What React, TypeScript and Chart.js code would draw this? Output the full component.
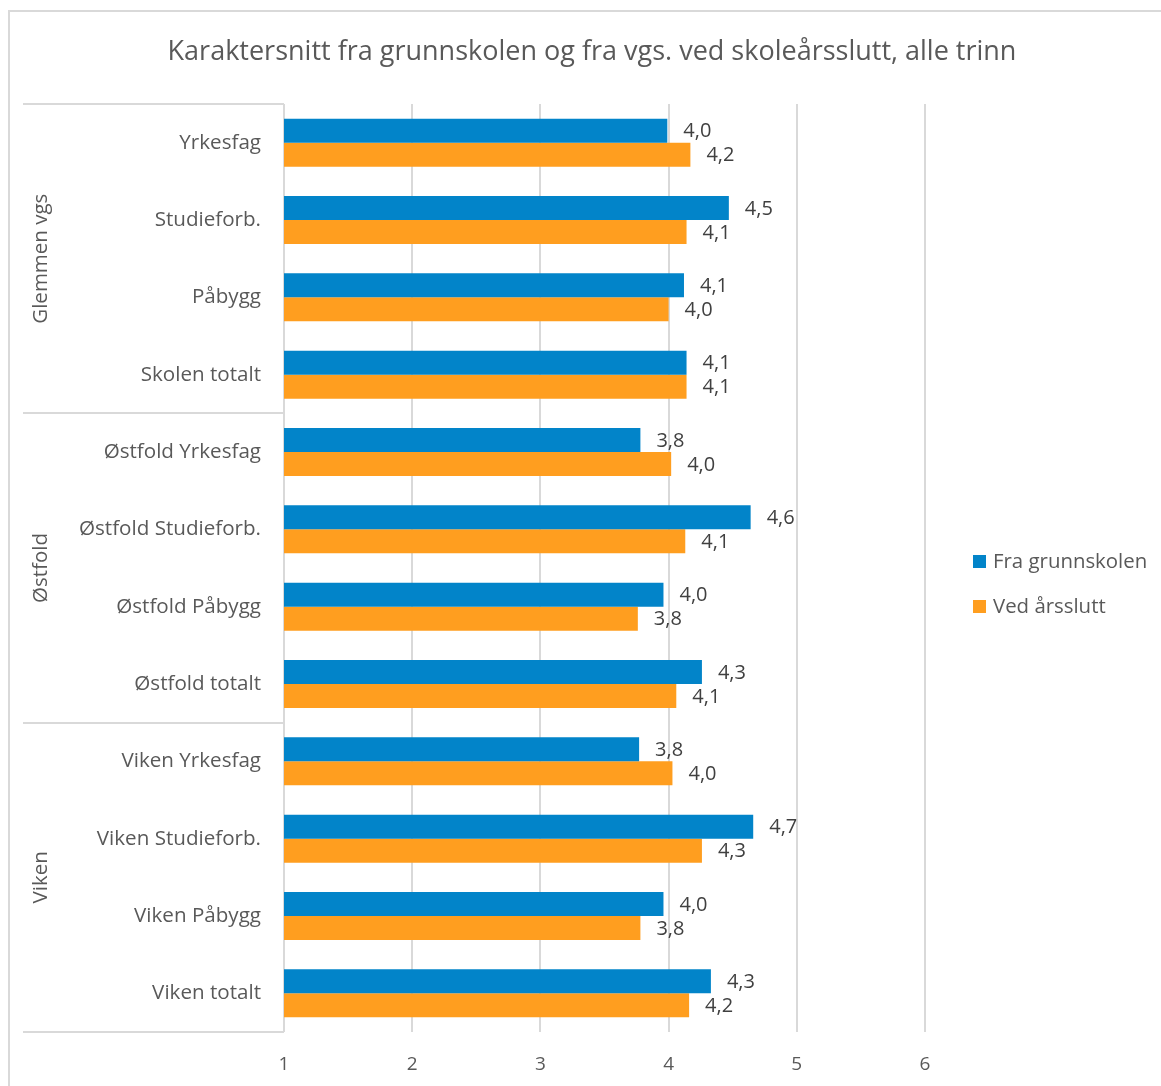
import React, { useEffect, useRef } from "react";
import { Chart, registerables } from "chart.js";

Chart.register(...registerables);

const title = "Karaktersnitt fra grunnskolen og fra vgs. ved skoleårsslutt, alle trinn";
const categories = [
  "Yrkesfag",
  "Studieforb.",
  "Påbygg",
  "Skolen totalt",
  "Østfold Yrkesfag",
  "Østfold Studieforb.",
  "Østfold Påbygg",
  "Østfold totalt",
  "Viken Yrkesfag",
  "Viken Studieforb.",
  "Viken Påbygg",
  "Viken totalt",
];
const groups = ["Glemmen vgs", "Østfold", "Viken"];
const groupSizes = [4, 4, 4];
const seriesNames = ["Fra grunnskolen", "Ved årsslutt"];
const fraGrunnskolen = [3.99, 4.47, 4.12, 4.14, 3.78, 4.64, 3.96, 4.26, 3.77, 4.66, 3.96, 4.33];
const vedArsslutt = [4.17, 4.14, 4.0, 4.14, 4.02, 4.13, 3.76, 4.06, 4.03, 4.26, 3.78, 4.16];
const xTicks = [1, 2, 3, 4, 5, 6];

const FONT = "'Open Sans', 'Noto Sans', sans-serif";
const TEXT = "#595959";
const GRID = "#d9d9d9";
const BLUE = "#0284c9";
const ORANGE = "#ff9e1f";

const W = 1151;
const H = 1074;

const fmt = (v: number) => v.toFixed(1).replace(".", ",");

const decorPlugin = {
  id: "decor",
  afterDraw(chart: any) {
    const ctx = chart.ctx;
    const area = chart.chartArea;
    const y = chart.scales.y;
    ctx.save();
    // title
    ctx.fillStyle = TEXT;
    ctx.font = `27px ${FONT}`;
    ctx.textAlign = "center";
    ctx.textBaseline = "middle";
    ctx.fillText(title, 582, 40);

    // group separators and labels
    const step = y.getPixelForValue(1) - y.getPixelForValue(0);
    const leftX = 13;
    ctx.strokeStyle = GRID;
    ctx.lineWidth = 2;
    let idx = 0;
    const bounds: number[] = [area.top];
    groupSizes.forEach((n) => {
      idx += n;
      const b = idx >= categories.length ? area.bottom : y.getPixelForValue(idx - 1) + step / 2;
      bounds.push(b);
    });
    bounds.forEach((b) => {
      ctx.beginPath();
      ctx.moveTo(leftX, Math.round(b));
      ctx.lineTo(area.left, Math.round(b));
      ctx.stroke();
    });
    ctx.font = `20.5px ${FONT}`;
    ctx.fillStyle = TEXT;
    groups.forEach((g, i) => {
      const cy = (bounds[i] + bounds[i + 1]) / 2;
      ctx.save();
      ctx.translate(31, cy);
      ctx.rotate(-Math.PI / 2);
      ctx.textAlign = "center";
      ctx.textBaseline = "middle";
      ctx.fillText(g, 0, 0);
      ctx.restore();
    });

    // data labels
    ctx.font = `20px ${FONT}`;
    ctx.fillStyle = "#404040";
    ctx.textAlign = "left";
    ctx.textBaseline = "middle";
    chart.data.datasets.forEach((ds: any, di: number) => {
      const meta = chart.getDatasetMeta(di);
      meta.data.forEach((el: any, i: number) => {
        ctx.fillText(fmt(ds.data[i]), el.x + 16, el.y + 1);
      });
    });

    // legend
    const legendX = 963;
    const legendY = [549, 594];
    ctx.font = `20.4px ${FONT}`;
    chart.data.datasets.forEach((ds: any, di: number) => {
      ctx.fillStyle = ds.backgroundColor;
      ctx.fillRect(legendX, legendY[di] - 6, 13, 13);
      ctx.fillStyle = TEXT;
      ctx.fillText(ds.label, legendX + 20, legendY[di] + 1);
    });
    ctx.restore();
  },
};

export default function App() {
  const ref = useRef<HTMLCanvasElement | null>(null);
  useEffect(() => {
    if (!ref.current) return;
    const chart = new Chart(ref.current, {
      type: "bar",
      data: {
        labels: categories,
        datasets: [
          { label: seriesNames[0], data: fraGrunnskolen, backgroundColor: BLUE },
          { label: seriesNames[1], data: vedArsslutt, backgroundColor: ORANGE },
        ],
      },
      options: {
        indexAxis: "y",
        responsive: false,
        animation: false,
        devicePixelRatio: 1,
        layout: { padding: { top: 92, right: 236, left: 0, bottom: 0 } },
        datasets: { bar: { barPercentage: 1, categoryPercentage: 0.62 } },
        plugins: {
          legend: { display: false },
          title: { display: false },
          tooltip: { enabled: false },
        },
        scales: {
          x: {
            type: "linear",
            min: 1,
            max: 6,
            afterBuildTicks: (scale: any) => {
              scale.ticks = xTicks.map((v) => ({ value: v }));
            },
            afterFit: (scale: any) => {
              scale.height = 54;
            },
            grid: { color: GRID, lineWidth: 2, drawTicks: false },
            border: { display: false },
            ticks: {
              padding: 21,
              color: TEXT,
              font: { family: FONT, size: 19 },
            },
          },
          y: {
            type: "category",
            afterFit: (scale: any) => {
              scale.width = 274;
            },
            grid: { display: false, drawTicks: false },
            border: { display: false },
            ticks: {
              padding: 23,
              color: TEXT,
              font: { family: FONT, size: 20.6 },
            },
          },
        },
      },
      plugins: [decorPlugin],
    } as any);
    return () => chart.destroy();
  }, []);

  return (
    <div
      style={{
        position: "fixed",
        left: 8,
        top: 10,
        width: 1160,
        height: 1090,
        borderLeft: "2px solid #d9d9d9",
        borderTop: "2px solid #d9d9d9",
        background: "#fff",
      }}
    >
      <canvas ref={ref} width={W} height={H} style={{ display: "block", width: W, height: H }} />
    </div>
  );
}
